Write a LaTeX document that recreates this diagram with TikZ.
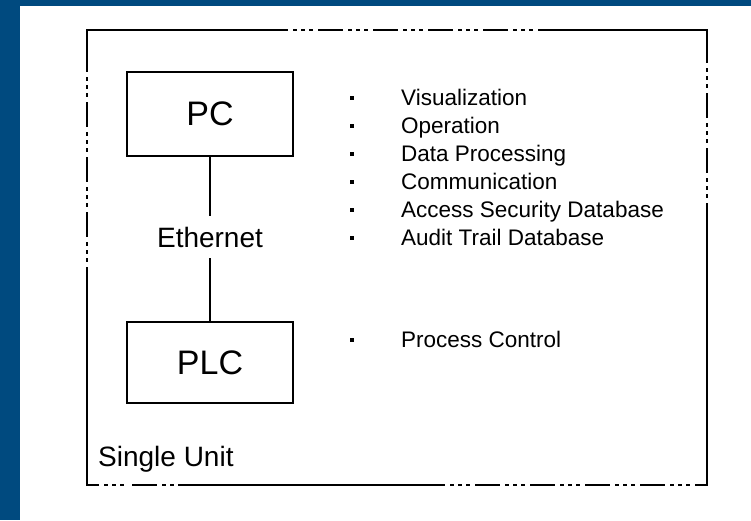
\documentclass[tikz,border=0pt]{standalone}
\usepackage{fontspec}
\setmainfont{Liberation Sans}
\definecolor{slideblue}{RGB}{0,74,127}
\tikzset{
  unitbox/.style={draw,line width=2.2pt,minimum width=166pt,inner sep=0pt},
  bigtext/.style={font=\fontsize{34}{40}\selectfont},
  midtext/.style={font=\fontsize{28}{33}\selectfont},
  itemtext/.style={font=\fontsize{22.5}{27}\selectfont,anchor=base west,inner sep=0pt},
  dot/.style={fill=black,minimum size=4pt,inner sep=0pt},
  frameline/.style={line width=2.4pt},
  dashdots/.pic={\draw[frameline] (0,0) -- (25,0) (30,0) -- (34,0) (38,0) -- (42,0) (46,0) -- (50,0);}
}
\begin{document}
\begin{tikzpicture}[x=1pt,y=-1pt]
\useasboundingbox (0,0) rectangle (751,520);
\fill[slideblue] (0,0) rectangle (751,520);
\fill[white] (20,6) rectangle (751,520);
% frame of the unit
\draw[frameline] (87,47) -- (87,30) -- (263,30);
\foreach \s in {263,318,...,483} \pic at (\s,30) {dashdots};
\draw[frameline] (538,30) -- (707,30) -- (707,38);
\foreach \s in {38,93,148} \pic[rotate=-90] at (707,\s) {dashdots};
\draw[frameline] (707,203) -- (707,485) -- (695,485);
\foreach \s in {420,475,...,640} \pic at (\s,485) {dashdots};
\draw[frameline] (420,485) -- (182,485);
\pic at (132,485) {dashdots};
\foreach \s in {104,112,120} \draw[frameline] (\s,485) -- ++(4,0);
\draw[frameline] (99,485) -- (87,485) -- (87,267);
\foreach \s in {47,102,157,212} \pic[rotate=-90] at (87,\s) {dashdots};
% PC and PLC
\node[unitbox,bigtext,minimum height=84pt] (pc) at (210,114) {PC};
\node[unitbox,bigtext,minimum height=81pt] (plc) at (210,362.5) {PLC};
\node[midtext,inner sep=11pt] (eth) at (210,237) {Ethernet};
\draw[line width=1.8pt] (pc) -- (eth);
\draw[line width=1.8pt] (eth) -- (plc);
\node[midtext,anchor=base west,inner sep=0pt] (unit) at (98,466) {Single Unit};
% tasks
\foreach \txt [count=\i from 0] in {Visualization,Operation,Data Processing,Communication,Access Security Database,Audit Trail Database} {
\node[dot] (dot\i) at (352,98+28*\i) {};
\node[itemtext] (item\i) at (401,105+28*\i) {\txt};
}
\node[dot] (dotctl) at (352,340) {};
\node[itemtext] (itemctl) at (401,347) {Process Control};
\end{tikzpicture}
\end{document}
